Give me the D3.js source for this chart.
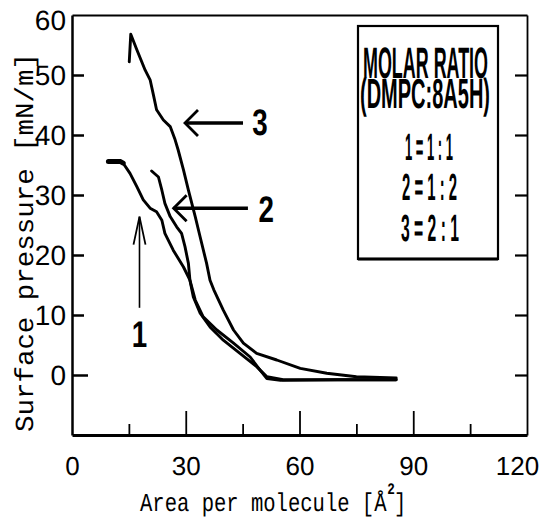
<!DOCTYPE html>
<html>
<head>
<meta charset="utf-8">
<script src="https://cdn.jsdelivr.net/npm/d3@7"></script>
<style>
  html, body { margin: 0; padding: 0; background: #fff; }
  svg { display: block; }
  text { text-rendering: geometricPrecision; }
</style>
</head>
<body>
<svg id="chart" width="545" height="520"></svg>
<script>
// ---------- data ----------
const xLabelTicks = [0, 30, 60, 90, 120];
const xMajorTicks = [30, 60, 90];
const xMinorTicks = [15, 45, 75, 105];
const yLabelTicks = [0, 10, 20, 30, 40, 50, 60];
const yRightTicks = [0, 10, 20, 30, 40, 50];

// isotherm 1 (DMPC:8A5H = 1:1)
const series1 = [[9.6,35.6],[12.7,35.6],[13.5,35.3],[15.3,33.6],[17.1,31.4],[18.8,29.2],[20.6,27.8],[22.3,27.2],
  [23.7,25.8],[24.5,23.6],[26.7,20.8],[29.4,18],[31.1,15.8],[32,13],[33.8,10.3],[36.4,8],[39.9,5.8],
  [44.3,3.6],[48.7,1.4],[51.4,-0.3],[55.7,-0.8],[70,-0.8],[85.5,-0.8]];
// isotherm 2 (1:2)
const series2 = [[21,34],[22.8,33],[23.7,30.8],[24.5,28.6],[25.9,26.4],[27.6,24.7],[28.9,23.6],[29.8,21.4],
  [30.7,18.6],[31.1,15.8],[32.5,12.5],[34.6,9.7],[38.2,7.5],[42.6,5.3],[47,3],[49.6,0.8],
  [51.4,-0.6],[55,-0.9],[70,-0.8],[85.5,-0.8]];
// isotherm 3 (2:1)
const series3 = [[15.1,52.2],[15.5,56.8],[17.1,54.2],[19.3,50.8],[20.6,49.2],[21.5,46.6],[22.3,44.2],
  [24.1,42.5],[25.9,41.4],[27.2,39.2],[28,37.5],[29.4,34.2],[30.7,30.8],[32.5,26.4],[33.8,23],
  [35.5,18.6],[36.4,15.8],[37.4,14.2],[39.9,10.8],[42.6,7.5],[45.2,5.3],[48.7,3.6],[54,2.5],[60.2,1.1],
  [67.2,0.3],[75,-0.3],[85.5,-0.5]];

// annotation arrows: label, tip [x,y], tail [x,y], label position [x,y]
const arrowLabels = ["3", "2", "1"];
const arrowTips   = [[29.8, 42], [26.8, 27.8], [17.8, 26.4]];
const arrowTails  = [[45.1, 42], [46.4, 27.8], [17.8, 11.2]];
const arrowText   = [[49.6, 40], [51.2, 25.5], [17.8, 4.7]];

const legendLines = ["MOLAR RATIO", "(DMPC:8A5H)", "1 = 1 : 1", "2 = 1 : 2", "3 = 2 : 1"];

// ---------- drawing ----------
const svg = d3.select("#chart");
svg.append("rect").attr("width", 545).attr("height", 520).attr("fill", "#fff");

const x = d3.scaleLinear().domain([0, 120]).range([72, 527]);
const y = d3.scaleLinear().domain([-10, 60]).range([435, 15]);

const tickFont = '"Liberation Sans Narrow", "Arial Narrow", "Liberation Sans", sans-serif';
const monoFont = '"Liberation Mono", "DejaVu Sans Mono", monospace';

// place a centred text horizontally squeezed to a given width
function fitText(str, cx, by, w, size, family, weight) {
  const t = svg.append("text")
    .attr("text-anchor", "middle")
    .attr("font-family", family).attr("font-size", size)
    .attr("font-weight", weight || "normal").attr("fill", "#000")
    .text(str);
  const len = t.node().getComputedTextLength();
  t.attr("transform", `translate(${cx},${by}) scale(${w / len},1)`);
  return t;
}

// left axis (ticks pointing inward)
const gL = svg.append("g").attr("transform", `translate(${x(0)},0)`)
  .call(d3.axisLeft(y).tickValues(yLabelTicks).tickSizeInner(-12).tickSizeOuter(0).tickPadding(6));
gL.select(".domain").attr("stroke", "#000").attr("stroke-width", 2.5);
gL.selectAll(".tick line").attr("stroke", "#000").attr("stroke-width", 2.5)
  .attr("x2", d => d === 0 ? 16 : 12);
gL.selectAll(".tick line").filter(d => d === 60).remove();
gL.selectAll(".tick text").attr("font-family", tickFont).attr("font-size", 28).attr("fill", "#000")
  .attr("dy", d => d === 60 ? "0.5em" : "0.34em");

// right axis
const gR = svg.append("g").attr("transform", `translate(${x(120)},0)`)
  .call(d3.axisRight(y).tickValues(yRightTicks).tickSizeInner(-12).tickSizeOuter(0).tickFormat(""));
gR.select(".domain").attr("stroke", "#000").attr("stroke-width", 1.8);
gR.selectAll(".tick line").attr("stroke", "#000").attr("stroke-width", 2.2);

// top line
const gT = svg.append("g").attr("transform", `translate(0,${y(60)})`)
  .call(d3.axisTop(x).tickValues([]).tickSizeOuter(0));
gT.select(".domain").attr("stroke", "#000").attr("stroke-width", 2.2);

// bottom axis ticks (major long, minor short)
const gB = svg.append("g").attr("transform", `translate(0,${y(-10)})`)
  .call(d3.axisBottom(x).tickValues(xMajorTicks.concat(xMinorTicks)).tickSizeInner(-24).tickSizeOuter(0).tickFormat(""));
gB.select(".domain").attr("stroke", "#000").attr("stroke-width", 3.2);
gB.selectAll(".tick line").attr("stroke", "#000").attr("stroke-width", 1.8)
  .attr("y2", d => xMajorTicks.includes(d) ? -24 : -11);

// bottom axis labels
const gBL = svg.append("g").attr("transform", `translate(0,${y(-10)})`)
  .call(d3.axisBottom(x).tickValues(xLabelTicks).tickSize(0).tickPadding(22));
gBL.select(".domain").remove();
gBL.selectAll(".tick text").attr("font-family", tickFont).attr("font-size", 26).attr("fill", "#000")
  .attr("dx", d => d === 120 ? -10 : 0);

// axis titles
svg.append("text")
  .attr("transform", "translate(33,432) rotate(-90)")
  .attr("font-family", monoFont).attr("font-size", 26).attr("fill", "#000")
  .attr("textLength", 379).attr("lengthAdjust", "spacingAndGlyphs")
  .text("Surface pressure [mN/m]");

const xt = svg.append("text")
  .attr("transform", "translate(140,511) scale(0.79,1)")
  .attr("font-family", monoFont).attr("font-size", 26).attr("fill", "#000");
xt.append("tspan").text("Area per molecule [Å");
xt.append("tspan").attr("font-size", 16).attr("font-weight", "bold").attr("dy", -17).attr("dx", 1).text("2");
xt.append("tspan").attr("dy", 17).attr("dx", -1).text("]");

// curves
const line = d3.line().x(d => x(d[0])).y(d => y(d[1]));
[series1, series2, series3].forEach((s, i) => {
  svg.append("path").datum(s).attr("d", line)
    .attr("fill", "none").attr("stroke", "#000")
    .attr("stroke-width", 2.9)
    .attr("stroke-linejoin", "round").attr("stroke-linecap", "round");
});
// thick start of curve 1
svg.append("path").datum(series1.slice(0, 3)).attr("d", line)
  .attr("fill", "none").attr("stroke", "#000").attr("stroke-width", 5).attr("stroke-linecap", "round");

// arrows
arrowLabels.forEach((lab, i) => {
  const tip = arrowTips[i], tail = arrowTails[i];
  const tx = x(tip[0]), ty = y(tip[1]);
  const vertical = tip[0] === tail[0];
  const sw = vertical ? 1.6 : 3.6;
  svg.append("line").attr("x1", x(tail[0])).attr("y1", y(tail[1])).attr("x2", tx).attr("y2", ty)
    .attr("stroke", "#000").attr("stroke-width", sw);
  const head = vertical
    ? [[tx - 6, ty + 28], [tx, ty], [tx + 6, ty + 28]]
    : [[tx + 13, ty - 13], [tx, ty], [tx + 13, ty + 13]];
  svg.append("path").attr("d", d3.line()(head)).attr("fill", "none").attr("stroke", "#000")
    .attr("stroke-width", vertical ? 1.8 : 2.8);
  const t = svg.append("text").attr("text-anchor", "middle")
    .attr("font-family", tickFont).attr("font-weight", "bold").attr("font-size", 37).attr("fill", "#000")
    .attr("transform", `translate(${x(arrowText[i][0])},${y(arrowText[i][1])}) scale(0.75,1)`)
    .text(lab);
});

// legend box
svg.append("rect").attr("x", 358).attr("y", 26).attr("width", 140).attr("height", 233)
  .attr("fill", "#fff").attr("stroke", "#000").attr("stroke-width", 2.2);
svg.append("line").attr("x1", 358).attr("x2", 498).attr("y1", 259).attr("y2", 259)
  .attr("stroke", "#000").attr("stroke-width", 3.2);

const legCX = [425.5, 425, 429, 429.5, 430];
const legW = [125, 130, 48, 55, 58];
const legY = [78, 108, 160, 200, 241];
const legSize = [44, 42, 38, 38, 38];
legendLines.forEach((t, i) => {
  fitText(t, legCX[i], legY[i], legW[i], legSize[i], tickFont, "bold");
});
</script>
</body>
</html>
